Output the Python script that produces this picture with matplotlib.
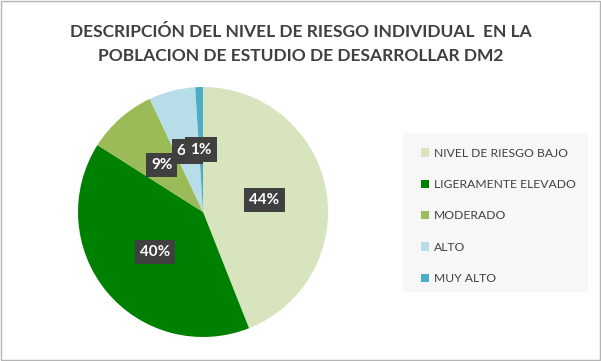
import matplotlib.pyplot as plt
from matplotlib.patches import Rectangle

plt.rcParams['font.family'] = ['Lato', 'DejaVu Sans']

categorias = ["NIVEL DE RIESGO BAJO", "LIGERAMENTE ELEVADO", "MODERADO", "ALTO", "MUY ALTO"]
porcentajes = [44, 40, 9, 6, 1]
colores = ["#d7e4bd", "#008000", "#9bbb59", "#b7dee8", "#4bacc6"]

fig = plt.figure(figsize=(6.01, 3.61), dpi=100)
fig.patch.set_facecolor("white")

# borde exterior
fig.patches.append(Rectangle((0.001, 0.002), 0.997, 0.995, transform=fig.transFigure,
                             fill=False, edgecolor="#b4b4b4", lw=1))

fig.text(0.5, 1 - 44 / 361, "DESCRIPCIÓN DEL NIVEL DE RIESGO INDIVIDUAL  EN LA\nPOBLACION DE ESTUDIO DE DESARROLLAR DM2",
         ha="center", va="center", fontsize=12.5, fontweight="bold", color="#404040",
         linespacing=1.6)

ax = fig.add_axes([0.1298, 0.0665, 0.416, 0.6925])
wedges, textos, autotextos = ax.pie(
    porcentajes, colors=colores, startangle=90, counterclock=False,
    autopct="%1.0f%%", pctdistance=0.5, radius=1,
    textprops=dict(color="white", fontweight="bold", fontsize=11),
)
for t in autotextos:
    t.set_bbox(dict(boxstyle="square,pad=0.33", facecolor="#404040", edgecolor="none"))
ax.set_xlim(-1, 1)
ax.set_ylim(-1, 1)
ax.set_aspect("equal")

# fondo de la leyenda
fig.patches.append(Rectangle((403 / 601, 1 - 292 / 361), 185 / 601, 159 / 361,
                             transform=fig.transFigure, facecolor="#f7f7f7",
                             edgecolor="none", zorder=0))

leg = fig.legend(wedges, categorias, loc="upper left",
                 bbox_to_anchor=(410 / 601, 1 - 137 / 361), frameon=False,
                 fontsize=8.7, labelspacing=1.68, handlelength=0.7, handleheight=0.7,
                 handletextpad=0.35, labelcolor="#404040")

fig.savefig("out.png", dpi=100)
